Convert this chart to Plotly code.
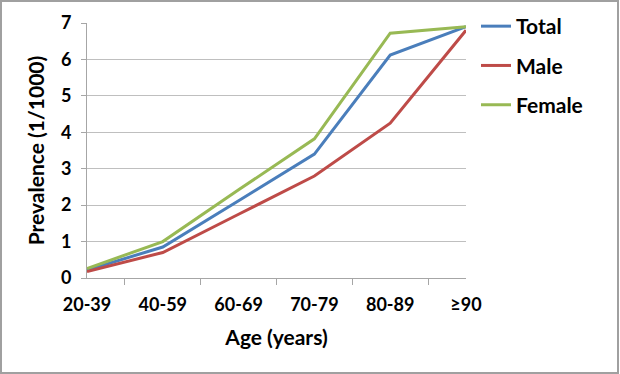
import plotly.graph_objects as go

categories = ["20-39", "40-59", "60-69", "70-79", "80-89", "≥90"]
total = [0.22, 0.85, 2.12, 3.4, 6.12, 6.9]
male = [0.18, 0.7, 1.75, 2.8, 4.25, 6.8]
female = [0.26, 1.0, 2.42, 3.82, 6.72, 6.9]

series = [("Total", total, "#4a7ebb"), ("Male", male, "#be4b48"), ("Female", female, "#98b954")]

FONT = "Lato"
W, H = 620, 374
L, R, T, B = 87, 154, 23, 96
pw, ph = W - L - R, H - T - B

fig = go.Figure()
for name, vals, col in series:
    fig.add_trace(go.Scatter(x=categories, y=vals, name=name, mode="lines",
                             line=dict(color=col, width=3), legendgroup=name))

def px_to_paper_x(p):
    return (p - L) / pw

def px_to_paper_y(p):
    return (H - B - p) / ph

fig.update_layout(
    width=W, height=H,
    margin=dict(l=L, r=R, t=T, b=B, autoexpand=False),
    paper_bgcolor="white", plot_bgcolor="white",
    font=dict(family=FONT, color="black", size=16),
    showlegend=True,
    legend=dict(x=px_to_paper_x(476), y=px_to_paper_y(6), xanchor="left", yanchor="top",
                font=dict(family=FONT, size=21, color="black", weight="bold"),
                traceorder="grouped", tracegroupgap=9, bgcolor="rgba(0,0,0,0)"),
    xaxis=dict(type="category", tickson="boundaries", ticks="outside", ticklen=6,
               tickcolor="#a6a6a6", showline=True, linecolor="#a6a6a6", linewidth=1,
               showgrid=False, zeroline=False, automargin=False, ticklabelstandoff=10,
               tickfont=dict(family=FONT, size=18, color="black", weight="bold"),
               title=dict(text="Age (years)", standoff=16,
                          font=dict(family=FONT, size=21, color="black", weight="bold"))),
    yaxis=dict(range=[0, 7], dtick=1, ticks="outside", ticklen=5, tickcolor="#a6a6a6",
               showline=True, linecolor="#a6a6a6", linewidth=1, automargin=False,
               ticklabelstandoff=6,
               showgrid=True, gridcolor="#bfbfbf", gridwidth=1, zeroline=False,
               tickfont=dict(family=FONT, size=18, color="black", weight="bold"),
               title=dict(text="Prevalence (1/1000)", standoff=10,
                          font=dict(family=FONT, size=21, color="black", weight="bold"))),
    shapes=[dict(type="rect", xref="paper", yref="paper",
                 x0=px_to_paper_x(1), x1=px_to_paper_x(618),
                 y0=px_to_paper_y(373), y1=px_to_paper_y(1),
                 line=dict(color="#a0a0a0", width=2), fillcolor="rgba(0,0,0,0)", layer="below")],
)

fig.write_html("out.html", config={"displayModeBar": False},
               post_script="document.body.style.margin='0';")
